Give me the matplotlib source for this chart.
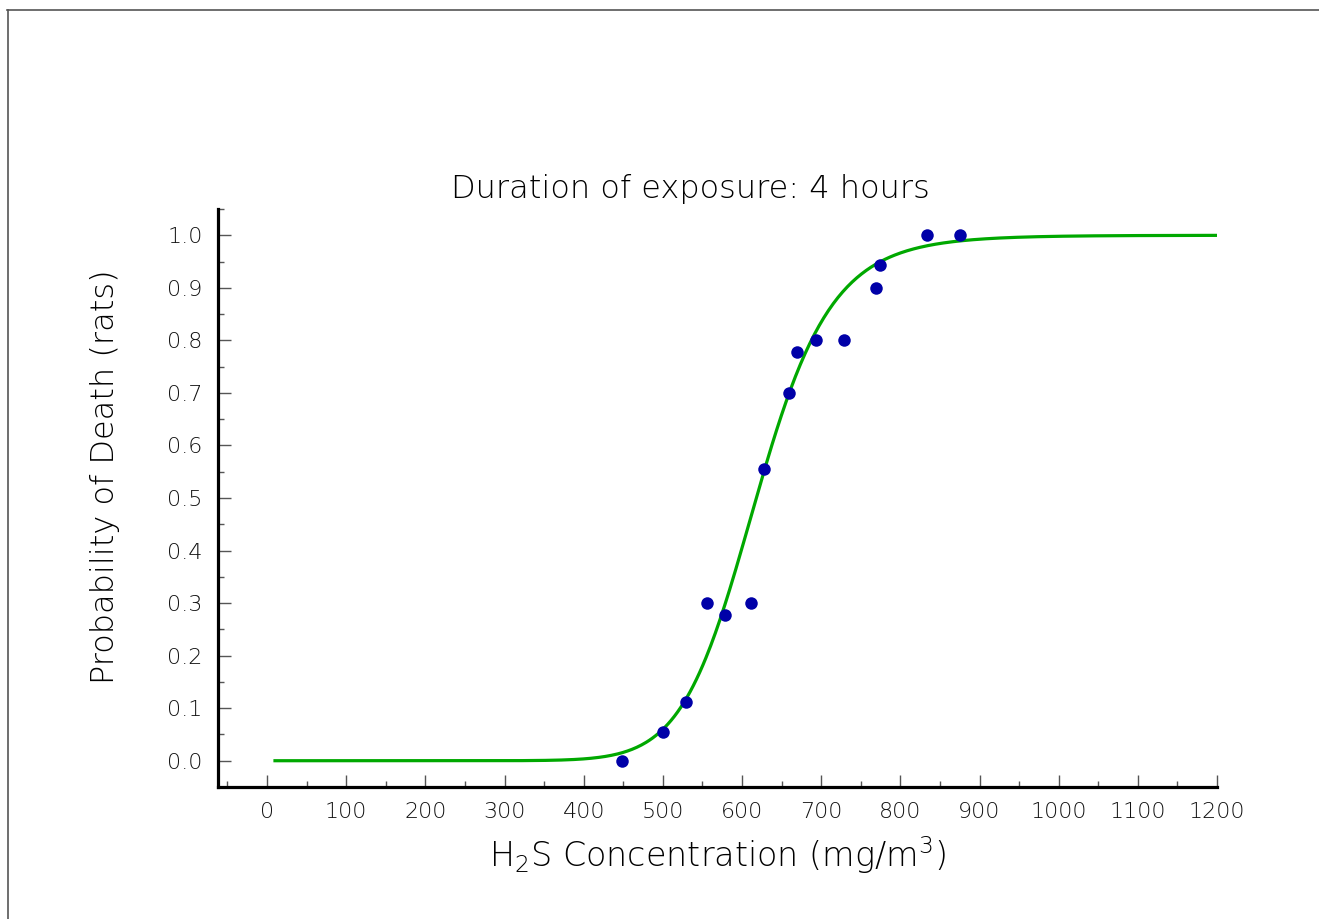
import numpy as np
import matplotlib
matplotlib.use("Agg")
import matplotlib.pyplot as plt
from matplotlib.lines import Line2D
from matplotlib.ticker import MultipleLocator

plt.rcParams['font.family'] = ['DejaVu Sans']
plt.rcParams['mathtext.fontset'] = 'custom'
plt.rcParams['mathtext.rm'] = 'DejaVu Sans:light'
plt.rcParams['mathtext.it'] = 'DejaVu Sans:light'

# Observed data (H2S concentration mg/m3, probability of death)
concentration = [448, 500, 529, 556, 578, 611, 628, 659, 670, 694, 729, 769, 774, 834, 875]
probability = [0.0, 0.0556, 0.111, 0.30, 0.278, 0.30, 0.556, 0.70, 0.778, 0.80, 0.80, 0.90, 0.944, 1.0, 1.0]

# Fitted log-logistic dose-response curve parameters
curve_start = 10
curve_end = 1200
ec50 = 618.0
hill_slope = 13.0

title = "Duration of exposure: 4 hours"
xlabel = r"H$_2$S Concentration (mg/m$^3$)"
ylabel = "Probability of Death (rats)"

fig = plt.figure(figsize=(13.19, 9.19), dpi=100)
ax = fig.add_axes([218/1319, 1-787/919, (1217-218)/1319, (787-209)/919])

xc = np.linspace(curve_start, curve_end, 600)
yc = 1.0 / (1.0 + (ec50 / xc) ** hill_slope)
ax.plot(xc, yc, color='#00A800', lw=2.3, zorder=2)
ax.plot(concentration, probability, 'o', color='#0000A8', ms=9, mec='none', zorder=3)

ax.set_xlim(-62, 1200)
ax.set_ylim(-0.05, 1.05)
ax.xaxis.set_major_locator(MultipleLocator(100))
ax.xaxis.set_minor_locator(MultipleLocator(50))
ax.yaxis.set_major_locator(MultipleLocator(0.1))
ax.yaxis.set_minor_locator(MultipleLocator(0.05))
ax.set_xticks(np.arange(0, 1201, 100))
ax.set_yticks(np.arange(0, 1.01, 0.1))
ax.set_yticklabels([f"{v:.1f}" for v in np.arange(0, 1.01, 0.1)])

for s in ['top', 'right']:
    ax.spines[s].set_visible(False)
for s in ['left', 'bottom']:
    ax.spines[s].set_linewidth(2.3)
    ax.spines[s].set_color('black')

ax.tick_params(which='major', direction='in', length=9, width=1.0, color='#555555',
               labelsize=16, pad=11, labelcolor='#111111')
ax.tick_params(which='minor', direction='in', length=4.5, width=1.0, color='#555555')
for lab in ax.get_xticklabels() + ax.get_yticklabels():
    lab.set_fontweight('light')

fig.text(690/1319, 1-189/919, title, ha='center', va='center', fontsize=23,
         fontweight='light', color='#000000')
fig.text(717/1319, 1-855/919, xlabel, ha='center', va='center', fontsize=24,
         fontweight='light', color='#000000')
fig.text(105/1319, 1-477/919, ylabel, ha='center', va='center', fontsize=23,
         rotation=90, fontweight='light', color='#000000')

# figure frame lines (top and left)
fig.add_artist(Line2D([7/1319, 1.0], [1-9.5/919, 1-9.5/919], transform=fig.transFigure,
                      color='#555555', lw=1.2))
fig.add_artist(Line2D([7.5/1319, 7.5/1319], [0.0, 1-9.5/919], transform=fig.transFigure,
                      color='#555555', lw=1.2))

fig.savefig("out.png", dpi=100, facecolor='white')
